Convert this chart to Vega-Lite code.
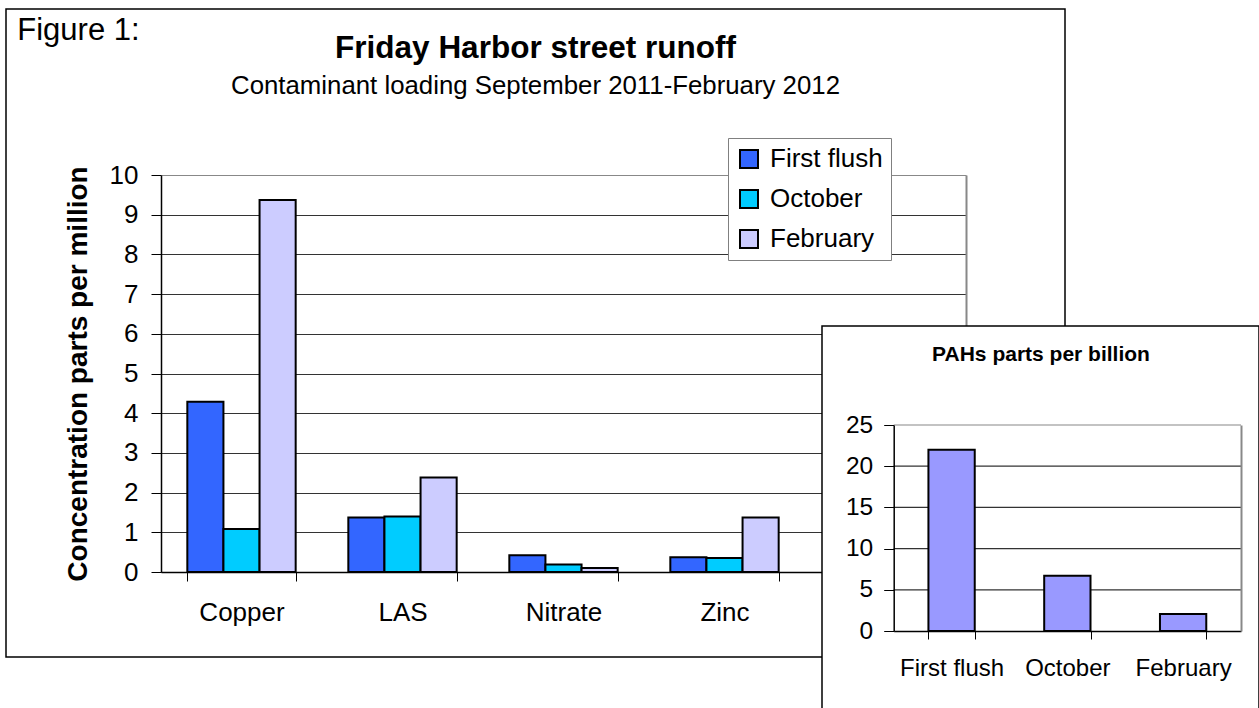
{
  "$schema": "https://vega.github.io/schema/vega-lite/v6.json",
  "padding": {"left": 5, "top": 8, "right": 0, "bottom": 0},
  "background": "white",
  "title": {"text": "Figure 1:", "anchor": "start", "frame": "bounds", "fontSize": 31, "fontWeight": "normal", "color": "black", "offset": -39, "dx": 12},
  "config": {
    "font": "Liberation Sans",
    "axis": {"labelColor": "black", "domainColor": "black", "tickColor": "black", "labelFont": "Liberation Sans", "titleFont": "Liberation Sans", "titleColor": "black"},
    "title": {"color": "black", "subtitleColor": "black", "font": "Liberation Sans", "subtitleFont": "Liberation Sans"}
  },
  "datasets": {
    "main": [
      {"contaminant": "Copper", "series": "First flush", "ppm": 4.29},
      {"contaminant": "Copper", "series": "October", "ppm": 1.08},
      {"contaminant": "Copper", "series": "February", "ppm": 9.37},
      {"contaminant": "LAS", "series": "First flush", "ppm": 1.37},
      {"contaminant": "LAS", "series": "October", "ppm": 1.4},
      {"contaminant": "LAS", "series": "February", "ppm": 2.38},
      {"contaminant": "Nitrate", "series": "First flush", "ppm": 0.42},
      {"contaminant": "Nitrate", "series": "October", "ppm": 0.19},
      {"contaminant": "Nitrate", "series": "February", "ppm": 0.1},
      {"contaminant": "Zinc", "series": "First flush", "ppm": 0.37},
      {"contaminant": "Zinc", "series": "October", "ppm": 0.35},
      {"contaminant": "Zinc", "series": "February", "ppm": 1.37}
    ],
    "inset": [
      {"month": "First flush", "ppb": 22.0},
      {"month": "October", "ppb": 6.7},
      {"month": "February", "ppb": 2.05}
    ],
    "insetGrid": [
      {"level": 5}, {"level": 10}, {"level": 15}, {"level": 20}, {"level": 25}
    ],
    "insetPanel": [
      {"panel": "PAHs"}
    ]
  },
  "vconcat": [
    {
      "width": 1059,
      "height": 648,
      "view": {"stroke": "black", "strokeWidth": 1.5, "fill": "white"},
      "title": {"text": "Friday Harbor street runoff", "subtitle": "Contaminant loading September 2011-February 2012", "anchor": "middle", "frame": "group", "fontSize": 31.5, "fontWeight": "bold", "subtitleFontSize": 25.8, "subtitlePadding": 10, "offset": -90},
      "layer": [
        {
          "data": {"name": "main"},
          "mark": {"type": "bar", "stroke": "black", "strokeWidth": 2},
          "encoding": {
            "x": {"field": "contaminant", "type": "nominal",
              "scale": {"domain": ["Copper", "LAS", "Nitrate", "Zinc", "PAHs"], "range": [155, 960], "paddingInner": 0.327, "paddingOuter": 0.1635},
              "axis": {"orient": "bottom", "offset": -85, "tickBand": "extent", "tickSize": 9, "labelFontSize": 26, "labelPadding": 18, "labelAngle": 0, "labelExpr": "datum.value === 'PAHs' ? '' : datum.label", "title": null, "grid": false, "domainWidth": 1.5}},
            "xOffset": {"field": "series", "type": "nominal", "scale": {"domain": ["First flush", "October", "February"], "paddingInner": 0, "paddingOuter": 0}},
            "y": {"field": "ppm", "type": "quantitative",
              "scale": {"domain": [0, 10], "range": [563, 166], "nice": false},
              "axis": {"orient": "left", "offset": -155, "values": [0, 1, 2, 3, 4, 5, 6, 7, 8, 9, 10], "grid": true,
                "gridColor": {"condition": {"test": "datum.value === 10", "value": "#888888"}, "value": "#333333"},
                "gridWidth": 1.2, "tickSize": 10, "labelFontSize": 26, "labelPadding": 13, "domainWidth": 1.5,
                "title": "Concentration parts per million", "titleFontSize": 28, "titleFontWeight": "bold", "titlePadding": 17}},
            "color": {"field": "series", "type": "nominal",
              "scale": {"domain": ["First flush", "October", "February"], "range": ["#3366FF", "#00CCFF", "#CCCCFF"]},
              "legend": {"orient": "none", "legendX": 722, "legendY": 129, "title": null, "strokeColor": "#808080", "fillColor": "white", "padding": 8, "symbolType": "square", "symbolSize": 324, "symbolStrokeColor": "black", "symbolStrokeWidth": 2, "symbolOpacity": 1, "labelFontSize": 26, "labelColor": "black", "rowPadding": 14, "labelOffset": 8}}
          }
        },
        {
          "data": {"name": "main"},
          "mark": {"type": "tick", "opacity": 0},
          "encoding": {
            "y": {"field": "ppm", "type": "quantitative",
              "scale": {"domain": [0, 10], "range": [563, 166], "nice": false},
              "axis": {"orient": "right", "offset": -99, "labels": false, "ticks": false, "grid": false, "title": null, "domainColor": "#888888", "domainWidth": 2}}
          }
        },
        {
          "data": {"name": "insetPanel"},
          "mark": {"type": "rect", "fill": "white", "stroke": "black", "strokeWidth": 1.5},
          "encoding": {
            "x": {"datum": 0, "type": "quantitative", "scale": {"domain": [0, 1], "range": [816, 1253], "nice": false, "zero": false}, "axis": null},
            "x2": {"datum": 1},
            "y": {"datum": 0, "type": "quantitative", "scale": {"domain": [0, 1], "range": [701, 317], "nice": false, "zero": false}, "axis": null},
            "y2": {"datum": 1}
          }
        },
        {
          "data": {"name": "insetGrid"},
          "mark": {"type": "rule", "strokeWidth": 1.2},
          "encoding": {
            "x": {"datum": 0, "type": "quantitative", "scale": {"domain": [0, 1], "range": [887.7, 1235], "nice": false, "zero": false}, "axis": null},
            "x2": {"datum": 1},
            "y": {"field": "level", "type": "quantitative", "scale": {"domain": [0, 25], "range": [622, 416], "nice": false}, "axis": null},
            "color": {"condition": {"test": "datum.level === 25", "value": "#888888"}, "value": "#333333"}
          }
        },
        {
          "data": {"name": "inset"},
          "mark": {"type": "bar", "fill": "#9999FF", "stroke": "black", "strokeWidth": 2},
          "encoding": {
            "x": {"field": "month", "type": "nominal",
              "scale": {"domain": ["First flush", "October", "February"], "range": [887.7, 1235], "paddingInner": 0.6, "paddingOuter": 0.3},
              "axis": {"zindex": 1, "orient": "bottom", "offset": -26, "tickBand": "extent", "tickSize": 8, "labelFontSize": 24, "labelPadding": 17, "labelAngle": 0, "title": null, "grid": false, "domainWidth": 1.5}},
            "y": {"field": "ppb", "type": "quantitative",
              "scale": {"domain": [0, 25], "range": [622, 416], "nice": false},
              "axis": {"zindex": 1, "orient": "left", "offset": -887.7, "values": [0, 5, 10, 15, 20, 25], "grid": false, "tickSize": 10, "labelFontSize": 24.5, "labelPadding": 11, "domainWidth": 1.5, "title": null}}
          }
        },
        {
          "data": {"name": "inset"},
          "mark": {"type": "tick", "opacity": 0},
          "encoding": {
            "x": {"field": "month", "type": "nominal",
              "scale": {"domain": ["First flush", "October", "February"], "range": [887.7, 1235], "paddingInner": 0.6, "paddingOuter": 0.3},
              "axis": {"zindex": 1, "orient": "top", "offset": -351, "domain": false, "ticks": false, "labels": false, "grid": false,
                "title": "PAHs parts per billion", "titleFontSize": 21, "titleFontWeight": "bold", "titleX": 1034.5, "titleY": 0, "titleAlign": "center", "titleBaseline": "alphabetic", "titleAnchor": null}},
            "y": {"field": "ppb", "type": "quantitative",
              "scale": {"domain": [0, 25], "range": [622, 416], "nice": false},
              "axis": {"zindex": 1, "orient": "right", "offset": 176, "labels": false, "ticks": false, "grid": false, "title": null, "domainColor": "#888888", "domainWidth": 2}}
          }
        }
      ],
      "resolve": {
        "scale": {"x": "independent", "y": "independent"},
        "axis": {"x": "independent", "y": "independent"}
      }
    }
  ]
}
